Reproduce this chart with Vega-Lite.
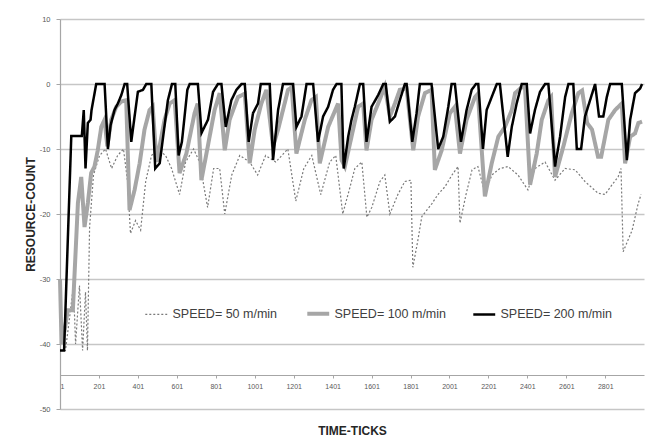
{
  "$schema": "https://vega.github.io/schema/vega-lite/v6.json",
  "width": 584,
  "height": 390,
  "autosize": {"type": "none"},
  "padding": {"left": 60, "top": 19, "right": 15, "bottom": 28},
  "background": "white",
  "config": {
    "view": {"stroke": null},
    "font": "Liberation Sans",
    "axis": {"labelFont": "Liberation Sans", "titleFont": "Liberation Sans"}
  },
  "datasets": {
    "d50": [
      {"tick":1,"count":-41},{"tick":29,"count":-41},{"tick":50,"count":-36},{"tick":70,"count":-31},{"tick":81,"count":-40},{"tick":101,"count":-31},{"tick":117,"count":-41},{"tick":132,"count":-32},{"tick":142,"count":-41},{"tick":153,"count":-22},{"tick":173,"count":-14},{"tick":204,"count":-11},{"tick":235,"count":-10},{"tick":266,"count":-13},{"tick":297,"count":-11},{"tick":327,"count":-10},{"tick":348,"count":-15},{"tick":363,"count":-23},{"tick":389,"count":-21},{"tick":415,"count":-22.5},{"tick":441,"count":-15},{"tick":471,"count":-11},{"tick":502,"count":-10},{"tick":543,"count":-11},{"tick":574,"count":-13},{"tick":615,"count":-17},{"tick":646,"count":-12},{"tick":687,"count":-10},{"tick":718,"count":-12},{"tick":759,"count":-19},{"tick":790,"count":-13},{"tick":821,"count":-13},{"tick":847,"count":-20},{"tick":883,"count":-14},{"tick":924,"count":-11},{"tick":975,"count":-12},{"tick":1016,"count":-14},{"tick":1057,"count":-11},{"tick":1109,"count":-12},{"tick":1171,"count":-10},{"tick":1212,"count":-18},{"tick":1253,"count":-13},{"tick":1294,"count":-11},{"tick":1340,"count":-17},{"tick":1386,"count":-12},{"tick":1417,"count":-11},{"tick":1453,"count":-20},{"tick":1489,"count":-16},{"tick":1515,"count":-13},{"tick":1551,"count":-12},{"tick":1577,"count":-20.5},{"tick":1602,"count":-19},{"tick":1644,"count":-15},{"tick":1669,"count":-14},{"tick":1695,"count":-20},{"tick":1736,"count":-17},{"tick":1772,"count":-15},{"tick":1803,"count":-14.8},{"tick":1813,"count":-28.2},{"tick":1839,"count":-24},{"tick":1859,"count":-20.4},{"tick":1911,"count":-18.4},{"tick":1942,"count":-17},{"tick":1978,"count":-15.8},{"tick":2014,"count":-14},{"tick":2045,"count":-12.7},{"tick":2055,"count":-21.4},{"tick":2086,"count":-17},{"tick":2117,"count":-13.2},{"tick":2147,"count":-12.7},{"tick":2183,"count":-16.8},{"tick":2219,"count":-14},{"tick":2260,"count":-13},{"tick":2302,"count":-12.7},{"tick":2353,"count":-14},{"tick":2404,"count":-16.3},{"tick":2440,"count":-13},{"tick":2492,"count":-12},{"tick":2543,"count":-14.8},{"tick":2595,"count":-13},{"tick":2646,"count":-13.2},{"tick":2697,"count":-15},{"tick":2764,"count":-16.8},{"tick":2800,"count":-17},{"tick":2836,"count":-15.5},{"tick":2867,"count":-14.3},{"tick":2882,"count":-13},{"tick":2893,"count":-25.8},{"tick":2918,"count":-24},{"tick":2939,"count":-22.5},{"tick":2970,"count":-18.4},{"tick":2985,"count":-17}
    ],
    "d100": [
      {"tick":1,"count":-30},{"tick":9,"count":-40},{"tick":24,"count":-38},{"tick":41,"count":-34.8},{"tick":67,"count":-34.8},{"tick":93,"count":-18.3},{"tick":110,"count":-14.3},{"tick":127,"count":-22},{"tick":144,"count":-18.3},{"tick":161,"count":-13.7},{"tick":178,"count":-12.7},{"tick":195,"count":-10.2},{"tick":213,"count":-6.6},{"tick":230,"count":-5.5},{"tick":244,"count":-9.6},{"tick":264,"count":-5.5},{"tick":290,"count":-3.5},{"tick":316,"count":-2.7},{"tick":341,"count":-2.5},{"tick":358,"count":-19.4},{"tick":384,"count":-16.3},{"tick":410,"count":-12.2},{"tick":435,"count":-7},{"tick":461,"count":-4},{"tick":477,"count":-3.5},{"tick":497,"count":-12},{"tick":538,"count":-5.5},{"tick":564,"count":-3},{"tick":590,"count":-2.5},{"tick":615,"count":-13.7},{"tick":650,"count":-10.7},{"tick":692,"count":-4.5},{"tick":708,"count":-3},{"tick":727,"count":-14.8},{"tick":753,"count":-10.7},{"tick":795,"count":-4},{"tick":821,"count":-1.4},{"tick":847,"count":-10.2},{"tick":872,"count":-5.5},{"tick":915,"count":-2},{"tick":950,"count":-1.5},{"tick":975,"count":-12.2},{"tick":1001,"count":-7},{"tick":1035,"count":-3},{"tick":1061,"count":-0.9},{"tick":1095,"count":-9.6},{"tick":1121,"count":-7},{"tick":1172,"count":-0.9},{"tick":1191,"count":-0.5},{"tick":1215,"count":-10.7},{"tick":1258,"count":-5.5},{"tick":1292,"count":-2.5},{"tick":1315,"count":-2},{"tick":1335,"count":-12.2},{"tick":1378,"count":-6.6},{"tick":1429,"count":-3},{"tick":1447,"count":-11.7},{"tick":1464,"count":-12.7},{"tick":1498,"count":-8.1},{"tick":1532,"count":-3.5},{"tick":1558,"count":-3},{"tick":1575,"count":-10.2},{"tick":1601,"count":-5.5},{"tick":1635,"count":-3},{"tick":1669,"count":-0.4},{"tick":1695,"count":-5},{"tick":1721,"count":-3},{"tick":1746,"count":-0.9},{"tick":1781,"count":-0.7},{"tick":1815,"count":-10.2},{"tick":1840,"count":-5},{"tick":1875,"count":-1.4},{"tick":1909,"count":-0.9},{"tick":1926,"count":-13.2},{"tick":1961,"count":-10.2},{"tick":2003,"count":-4.5},{"tick":2029,"count":-3.5},{"tick":2055,"count":-10.7},{"tick":2089,"count":-5.5},{"tick":2132,"count":-2},{"tick":2147,"count":-1.5},{"tick":2183,"count":-17.3},{"tick":2218,"count":-12.2},{"tick":2252,"count":-8.1},{"tick":2286,"count":-6.6},{"tick":2321,"count":-4},{"tick":2338,"count":-1.4},{"tick":2372,"count":-0.5},{"tick":2389,"count":-0.5},{"tick":2415,"count":-15.5},{"tick":2449,"count":-10.7},{"tick":2475,"count":-5.5},{"tick":2509,"count":-2.5},{"tick":2523,"count":-2},{"tick":2543,"count":-14.3},{"tick":2586,"count":-9.6},{"tick":2629,"count":-4.5},{"tick":2663,"count":-1.4},{"tick":2682,"count":-1},{"tick":2708,"count":-6},{"tick":2733,"count":-7},{"tick":2764,"count":-11.2},{"tick":2780,"count":-11.2},{"tick":2817,"count":-5.5},{"tick":2852,"count":-4},{"tick":2886,"count":-3},{"tick":2903,"count":-12.2},{"tick":2929,"count":-8.1},{"tick":2954,"count":-7.6},{"tick":2971,"count":-6},{"tick":2990,"count":-5.8}
    ],
    "d200": [
      {"tick":1,"count":-41},{"tick":22,"count":-41},{"tick":59,"count":-8},{"tick":113,"count":-8},{"tick":123,"count":-4},{"tick":132,"count":-13},{"tick":144,"count":-6},{"tick":158,"count":-5.5},{"tick":163,"count":-4},{"tick":187,"count":0},{"tick":230,"count":0},{"tick":247,"count":-10},{"tick":261,"count":-6.3},{"tick":281,"count":-4},{"tick":298,"count":-3},{"tick":316,"count":-1.7},{"tick":333,"count":0},{"tick":346,"count":0},{"tick":367,"count":-8.9},{"tick":384,"count":-5},{"tick":401,"count":-1.2},{"tick":427,"count":-0.9},{"tick":444,"count":0},{"tick":470,"count":0},{"tick":490,"count":-13},{"tick":513,"count":-12.2},{"tick":555,"count":-2.5},{"tick":576,"count":0},{"tick":593,"count":0},{"tick":610,"count":-11},{"tick":627,"count":-8.9},{"tick":655,"count":-0.9},{"tick":667,"count":0},{"tick":709,"count":0},{"tick":728,"count":-7.5},{"tick":761,"count":-5.5},{"tick":787,"count":-1.2},{"tick":812,"count":0},{"tick":830,"count":0},{"tick":852,"count":-6.6},{"tick":881,"count":-2.5},{"tick":907,"count":-0.9},{"tick":933,"count":0},{"tick":950,"count":0},{"tick":970,"count":-8.9},{"tick":992,"count":-4.5},{"tick":1018,"count":-3},{"tick":1032,"count":0},{"tick":1078,"count":0},{"tick":1095,"count":-11.7},{"tick":1121,"count":-4},{"tick":1146,"count":0},{"tick":1198,"count":0},{"tick":1215,"count":-6.6},{"tick":1241,"count":-5},{"tick":1267,"count":0},{"tick":1301,"count":0},{"tick":1326,"count":-8.9},{"tick":1352,"count":-5},{"tick":1378,"count":-3.5},{"tick":1403,"count":-0.9},{"tick":1421,"count":0},{"tick":1446,"count":0},{"tick":1458,"count":-13},{"tick":1481,"count":-8.1},{"tick":1498,"count":-5.5},{"tick":1515,"count":-3.5},{"tick":1541,"count":0},{"tick":1558,"count":0},{"tick":1575,"count":-8.9},{"tick":1601,"count":-3.5},{"tick":1635,"count":-1.7},{"tick":1661,"count":0},{"tick":1674,"count":0},{"tick":1695,"count":-5.8},{"tick":1721,"count":-5},{"tick":1746,"count":-2.5},{"tick":1772,"count":0},{"tick":1781,"count":0},{"tick":1810,"count":-8.9},{"tick":1832,"count":-4.5},{"tick":1849,"count":0},{"tick":1909,"count":0},{"tick":1943,"count":-10},{"tick":1969,"count":-8.1},{"tick":1995,"count":-3.5},{"tick":2012,"count":0},{"tick":2029,"count":0},{"tick":2060,"count":-8.9},{"tick":2089,"count":-4},{"tick":2115,"count":-0.9},{"tick":2137,"count":0},{"tick":2149,"count":0},{"tick":2173,"count":-10},{"tick":2192,"count":-4},{"tick":2218,"count":-2},{"tick":2244,"count":0},{"tick":2260,"count":0},{"tick":2300,"count":-11.2},{"tick":2321,"count":-6.6},{"tick":2346,"count":-3},{"tick":2372,"count":0},{"tick":2398,"count":0},{"tick":2415,"count":-7.6},{"tick":2440,"count":-4},{"tick":2466,"count":-1.2},{"tick":2492,"count":0},{"tick":2509,"count":0},{"tick":2543,"count":-12.7},{"tick":2569,"count":-8.1},{"tick":2595,"count":-2},{"tick":2612,"count":0},{"tick":2637,"count":0},{"tick":2655,"count":-10},{"tick":2677,"count":-10},{"tick":2697,"count":-5},{"tick":2723,"count":-2.5},{"tick":2749,"count":0},{"tick":2769,"count":-5},{"tick":2791,"count":-5},{"tick":2809,"count":-2},{"tick":2826,"count":0},{"tick":2886,"count":0},{"tick":2912,"count":-11.7},{"tick":2929,"count":-5.5},{"tick":2954,"count":-1.4},{"tick":2980,"count":-0.7},{"tick":2990,"count":0}
    ]
  },
  "encoding": {
    "x": {
      "field": "tick", "type": "quantitative",
      "scale": {"domain": [1, 3000], "nice": false, "zero": false},
      "axis": {
        "title": "TIME-TICKS",
        "values": [1, 201, 401, 601, 801, 1001, 1201, 1401, 1601, 1801, 2001, 2201, 2401, 2601, 2801],
        "format": "d",
        "offset": -34,
        "grid": false,
        "domainColor": "#a6a6a6", "domainWidth": 1.2,
        "tickColor": "#a6a6a6", "tickSize": 3,
        "labelFontSize": 7, "labelColor": "#595959", "labelPadding": 4,
        "titleFontSize": 12, "titleFontWeight": "bold", "titleColor": "#262626",
        "titleY": 55, "titleBaseline": "middle"
      }
    },
    "y": {
      "field": "count", "type": "quantitative",
      "scale": {"domain": [-50, 10], "nice": false},
      "axis": {
        "title": "RESOURCE-COUNT",
        "values": [-50, -40, -30, -20, -10, 0, 10],
        "labelExpr": "datum.value + ''",
        "grid": true, "gridColor": "#c6c6c6", "gridWidth": 1.5,
        "domainColor": "#a6a6a6", "domainWidth": 1.2,
        "tickColor": "#a6a6a6", "tickSize": 4,
        "labelFontSize": 7.5, "labelColor": "#595959", "labelPadding": 6,
        "titleFontSize": 12, "titleFontWeight": "bold", "titleColor": "#262626",
        "titleX": -30, "titleY": 195, "titleBaseline": "middle", "titleAngle": -90
      }
    }
  },
  "layer": [
    {
      "data": {"name": "d50"},
      "mark": {"type": "line", "strokeWidth": 1.2},
      "encoding": {
        "color": {"datum": "SPEED= 50 m/min", "type": "nominal",
          "scale": {"domain": ["SPEED= 50 m/min", "SPEED= 100 m/min", "SPEED= 200 m/min"], "range": ["#7a7a7a", "#a6a6a6", "#000000"]},
          "legend": {
            "title": null, "orient": "none", "legendX": 90, "legendY": 288, "direction": "horizontal",
            "symbolType": "stroke", "symbolSize": 480, "labelFontSize": 12.5, "labelColor": "#404040",
            "labelOffset": 10, "columnPadding": 21, "padding": 0,
            "encode": {"symbols": {"update": {"strokeWidth": {"signal": "datum.value == 'SPEED= 100 m/min' ? 4 : datum.value == 'SPEED= 200 m/min' ? 2.5 : 1.2"}}}}
          }},
        "strokeDash": {"datum": "SPEED= 50 m/min", "type": "nominal",
          "scale": {"domain": ["SPEED= 50 m/min", "SPEED= 100 m/min", "SPEED= 200 m/min"], "range": [[2, 2], [1, 0], [1, 0]]},
          "legend": {
            "title": null, "orient": "none", "legendX": 90, "legendY": 288, "direction": "horizontal",
            "symbolType": "stroke", "symbolSize": 480, "labelFontSize": 12.5, "labelColor": "#404040",
            "labelOffset": 10, "columnPadding": 21, "padding": 0,
            "encode": {"symbols": {"update": {"strokeWidth": {"signal": "datum.value == 'SPEED= 100 m/min' ? 4 : datum.value == 'SPEED= 200 m/min' ? 2.5 : 1.2"}}}}
          }}
      }
    },
    {
      "data": {"name": "d100"},
      "mark": {"type": "line", "strokeWidth": 4},
      "encoding": {
        "color": {"datum": "SPEED= 100 m/min", "type": "nominal"},
        "strokeDash": {"datum": "SPEED= 100 m/min", "type": "nominal"}
      }
    },
    {
      "data": {"name": "d200"},
      "mark": {"type": "line", "strokeWidth": 2.5},
      "encoding": {
        "color": {"datum": "SPEED= 200 m/min", "type": "nominal"},
        "strokeDash": {"datum": "SPEED= 200 m/min", "type": "nominal"}
      }
    }
  ]
}
